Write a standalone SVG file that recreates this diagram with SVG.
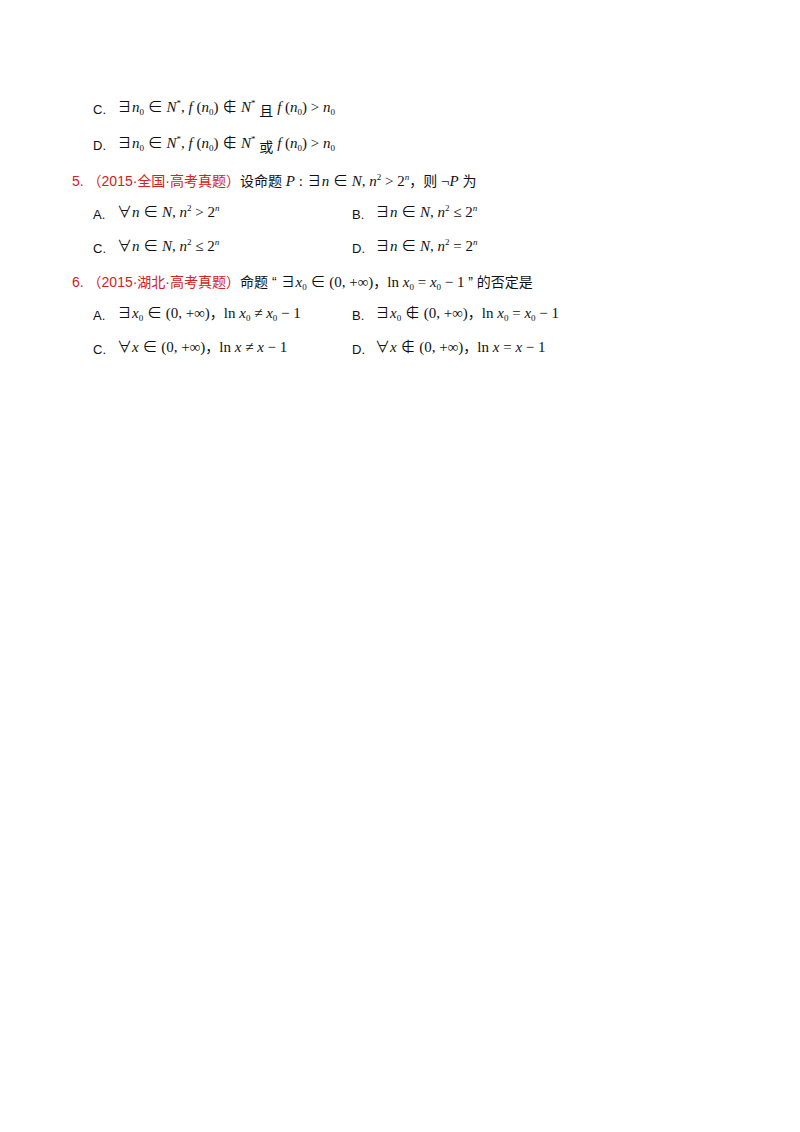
<svg xmlns="http://www.w3.org/2000/svg" width="800" height="1132" viewBox="0 0 800 1132">
<style>
.l{font-family:"Liberation Sans","Noto Sans CJK SC",sans-serif;font-size:13px;fill:#111}
.m{font-family:"Liberation Serif","Noto Sans CJK SC",serif;font-size:15px;fill:#111}
.i{font-style:italic}
.s{font-size:9px}
.c{font-family:"Liberation Sans","Noto Sans CJK SC",sans-serif;font-size:14px}
.r{fill:#d42020}
</style>
<rect width="800" height="1132" fill="#fff"/>
<text class="l" x="93" y="114">C.</text>
<text class="m" x="117" y="112">∃<tspan class="i">n</tspan><tspan class="s" dy="3">0</tspan><tspan dy="-3"> ∈ </tspan><tspan class="i">N</tspan><tspan class="s" dy="-6">*</tspan><tspan dy="6">, </tspan><tspan class="i">f</tspan> (<tspan class="i">n</tspan><tspan class="s" dy="3">0</tspan><tspan dy="-3">) ∉ </tspan><tspan class="i">N</tspan><tspan class="s" dy="-6">*</tspan><tspan class="c" dy="10"> 且</tspan><tspan dy="-4"> </tspan><tspan class="i">f</tspan> (<tspan class="i">n</tspan><tspan class="s" dy="3">0</tspan><tspan dy="-3">) &gt; </tspan><tspan class="i">n</tspan><tspan class="s" dy="3">0</tspan></text>
<text class="l" x="93" y="150">D.</text>
<text class="m" x="117" y="148">∃<tspan class="i">n</tspan><tspan class="s" dy="3">0</tspan><tspan dy="-3"> ∈ </tspan><tspan class="i">N</tspan><tspan class="s" dy="-6">*</tspan><tspan dy="6">, </tspan><tspan class="i">f</tspan> (<tspan class="i">n</tspan><tspan class="s" dy="3">0</tspan><tspan dy="-3">) ∉ </tspan><tspan class="i">N</tspan><tspan class="s" dy="-6">*</tspan><tspan class="c" dy="10"> 或</tspan><tspan dy="-4"> </tspan><tspan class="i">f</tspan> (<tspan class="i">n</tspan><tspan class="s" dy="3">0</tspan><tspan dy="-3">) &gt; </tspan><tspan class="i">n</tspan><tspan class="s" dy="3">0</tspan></text>
<text class="c r" x="72" y="186">5.  （2015·全国·高考真题）<tspan fill="#111">设命题</tspan><tspan class="m"> <tspan class="i">P</tspan> : ∃<tspan class="i">n</tspan> ∈ <tspan class="i">N</tspan>, <tspan class="i">n</tspan><tspan class="s" dy="-6">2</tspan><tspan dy="6"> &gt; 2</tspan><tspan class="s i" dy="-6">n</tspan></tspan><tspan fill="#111" dy="6">，则 </tspan><tspan class="m">¬<tspan class="i">P</tspan> </tspan><tspan fill="#111">为</tspan></text>
<text class="l" x="93" y="219">A.</text>
<text class="m" x="117" y="217">∀<tspan class="i">n</tspan> ∈ <tspan class="i">N</tspan>, <tspan class="i">n</tspan><tspan class="s" dy="-6">2</tspan><tspan dy="6"> &gt; 2</tspan><tspan class="s i" dy="-6">n</tspan></text>
<text class="l" x="352" y="219">B.</text>
<text class="m" x="375" y="217">∃<tspan class="i">n</tspan> ∈ <tspan class="i">N</tspan>, <tspan class="i">n</tspan><tspan class="s" dy="-6">2</tspan><tspan dy="6"> ≤ 2</tspan><tspan class="s i" dy="-6">n</tspan></text>
<text class="l" x="93" y="253">C.</text>
<text class="m" x="117" y="251">∀<tspan class="i">n</tspan> ∈ <tspan class="i">N</tspan>, <tspan class="i">n</tspan><tspan class="s" dy="-6">2</tspan><tspan dy="6"> ≤ 2</tspan><tspan class="s i" dy="-6">n</tspan></text>
<text class="l" x="352" y="253">D.</text>
<text class="m" x="375" y="251">∃<tspan class="i">n</tspan> ∈ <tspan class="i">N</tspan>, <tspan class="i">n</tspan><tspan class="s" dy="-6">2</tspan><tspan dy="6"> = 2</tspan><tspan class="s i" dy="-6">n</tspan></text>
<text class="c r" x="72" y="287">6.  （2015·湖北·高考真题）<tspan fill="#111">命题 “ </tspan><tspan class="m">∃<tspan class="i">x</tspan><tspan class="s" dy="3">0</tspan><tspan dy="-3"> ∈ (0, +∞)</tspan></tspan><tspan fill="#111">，</tspan><tspan class="m">ln <tspan class="i">x</tspan><tspan class="s" dy="3">0</tspan><tspan dy="-3"> = </tspan><tspan class="i">x</tspan><tspan class="s" dy="3">0</tspan><tspan dy="-3"> − 1 </tspan></tspan><tspan fill="#111">” 的否定是</tspan></text>
<text class="l" x="93" y="320">A.</text>
<text class="m" x="117" y="318">∃<tspan class="i">x</tspan><tspan class="s" dy="3">0</tspan><tspan dy="-3"> ∈ (0, +∞)</tspan><tspan class="c">，</tspan>ln <tspan class="i">x</tspan><tspan class="s" dy="3">0</tspan><tspan dy="-3"> ≠ </tspan><tspan class="i">x</tspan><tspan class="s" dy="3">0</tspan><tspan dy="-3"> − 1</tspan></text>
<text class="l" x="352" y="320">B.</text>
<text class="m" x="375" y="318">∃<tspan class="i">x</tspan><tspan class="s" dy="3">0</tspan><tspan dy="-3"> ∉ (0, +∞)</tspan><tspan class="c">，</tspan>ln <tspan class="i">x</tspan><tspan class="s" dy="3">0</tspan><tspan dy="-3"> = </tspan><tspan class="i">x</tspan><tspan class="s" dy="3">0</tspan><tspan dy="-3"> − 1</tspan></text>
<text class="l" x="93" y="354">C.</text>
<text class="m" x="117" y="352">∀<tspan class="i">x</tspan> ∈ (0, +∞)<tspan class="c">，</tspan>ln <tspan class="i">x</tspan> ≠ <tspan class="i">x</tspan> − 1</text>
<text class="l" x="352" y="354">D.</text>
<text class="m" x="375" y="352">∀<tspan class="i">x</tspan> ∉ (0, +∞)<tspan class="c">，</tspan>ln <tspan class="i">x</tspan> = <tspan class="i">x</tspan> − 1</text>
</svg>
